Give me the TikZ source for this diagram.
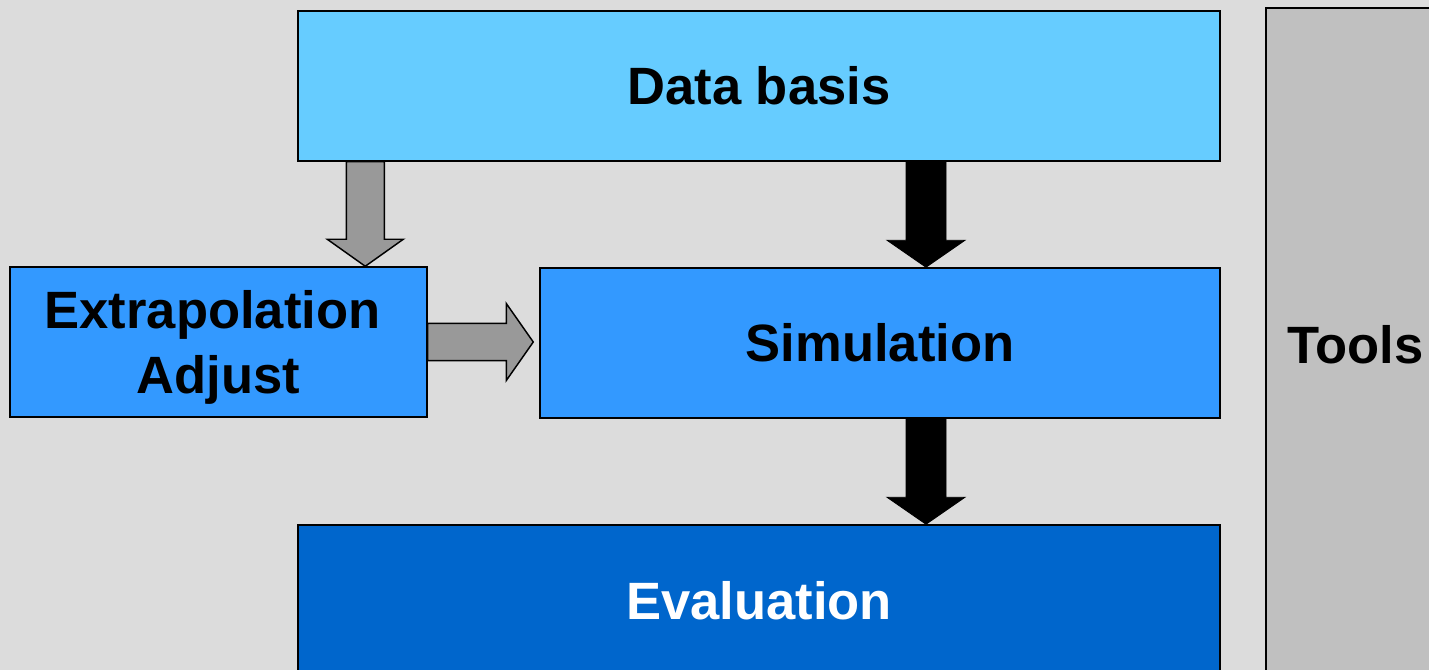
\documentclass[tikz,border=0pt]{standalone}
\usepackage{fontspec}
\setmainfont{Liberation Sans}
\usetikzlibrary{calc}

\definecolor{bgc}{HTML}{DCDCDC}
\definecolor{lightblue}{HTML}{66CCFF}
\definecolor{midblue}{HTML}{3399FF}
\definecolor{darkblue}{HTML}{0066CC}
\definecolor{toolgray}{HTML}{C0C0C0}
\definecolor{arrowgray}{HTML}{999999}

% fat block arrow pointing down: from, to, shaft half-width, head half-width, head length, style
\newcommand\blockdown[6]{%
  \path[#6] let \p1=(#1), \p2=(#2) in
    (\x1-#3,\y1) -- (\x1-#3,\y2+#5) -- (\x1-#4,\y2+#5) -- (\x1,\y2)
    -- (\x1+#4,\y2+#5) -- (\x1+#3,\y2+#5) -- (\x1+#3,\y1) -- cycle;}
% fat block arrow pointing right
\newcommand\blockright[6]{%
  \path[#6] let \p1=(#1), \p2=(#2) in
    (\x1,\y1+#3) -- (\x2-#5,\y1+#3) -- (\x2-#5,\y1+#4) -- (\x2,\y1)
    -- (\x2-#5,\y1-#4) -- (\x2-#5,\y1-#3) -- (\x1,\y1-#3) -- cycle;}

\tikzset{
  block/.style={draw=black, line width=1.1pt, inner sep=0pt, align=center,
    font=\fontsize{39.4}{47.5}\selectfont\bfseries},
  grayarrow/.style={fill=arrowgray, draw=black, line width=1.1pt, line join=miter},
  blackarrow/.style={fill=black, draw=black, line width=0.6pt, line join=miter},
}

\begin{document}
\begin{tikzpicture}[x=0.75pt, y=-0.75pt]
  \useasboundingbox (0,0) rectangle (1429,670);
  \clip (0,0) rectangle (1429,670);
  \fill[bgc] (0,0) rectangle (1429,670);

  % boxes
  \node[block, fill=lightblue, minimum width=922*0.75pt, minimum height=150*0.75pt]
    (data) at (759,86) {Data basis};
  \node[block, fill=midblue, minimum width=417*0.75pt, minimum height=150*0.75pt,
    text depth=0pt]
    (ext) at (218.5,342) {Extrapolation\hspace*{9pt}\\[1pt]Adjust};
  \node[block, fill=midblue, minimum width=680*0.75pt, minimum height=150*0.75pt]
    (sim) at (880,343) {Simulation};
  \node[block, fill=darkblue, text=white, minimum width=922*0.75pt, minimum height=152*0.75pt]
    (eval) at (759,601) {Evaluation};
  \node[block, fill=toolgray, minimum width=179*0.75pt, minimum height=674*0.75pt]
    (tools) at (1355.5,345) {Tools};

  % arrows
  \coordinate (g1s) at ([xshift=68*0.75pt]data.south west);
  \coordinate (g1e) at (g1s |- ext.north);
  \blockdown{g1s}{g1e}{14.25pt}{28.5pt}{20.25pt}{grayarrow}

  \coordinate (g2e) at ([xshift=-4.5pt]sim.west);
  \blockright{ext.east}{g2e}{13.9pt}{28.9pt}{20.25pt}{grayarrow}

  \coordinate (b1s) at (data.south -| 926,0);
  \coordinate (b1e) at (b1s |- sim.north);
  \blockdown{b1s}{b1e}{15pt}{29.25pt}{20.25pt}{blackarrow}

  \coordinate (b2s) at (b1s |- sim.south);
  \coordinate (b2e) at (b1s |- eval.north);
  \blockdown{b2s}{b2e}{15pt}{29.25pt}{20.25pt}{blackarrow}
\end{tikzpicture}
\end{document}
